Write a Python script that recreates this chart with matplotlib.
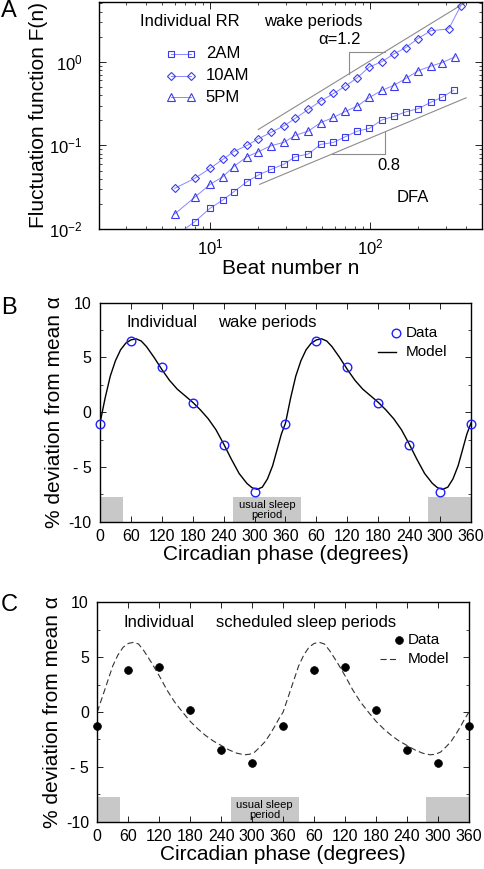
import matplotlib
matplotlib.use("Agg")
import matplotlib.pyplot as plt
from matplotlib.patches import Rectangle
from matplotlib.ticker import FixedLocator, MultipleLocator

plt.rcParams['font.family'] = ['Liberation Sans', 'DejaVu Sans']
plt.rcParams['mathtext.fontset'] = 'custom'
plt.rcParams['mathtext.rm'] = 'Liberation Sans'
plt.rcParams['mathtext.it'] = 'Liberation Sans:italic'

# ---------------- Panel A data (DFA) ----------------
n_2am = [6, 8, 10, 12, 14, 17, 20, 24, 29, 34, 41, 49, 59, 70, 83, 99, 118, 140, 167, 199, 239, 282, 333]
F_2am = [0.0081, 0.0122, 0.0177, 0.0222, 0.0277, 0.0368, 0.0442, 0.0516, 0.0598, 0.0732, 0.0788, 0.1028,
         0.1086, 0.127, 0.148, 0.160, 0.201, 0.222, 0.252, 0.274, 0.327, 0.378, 0.458]
n_10am = [6, 8, 10, 12, 14, 17, 20, 24, 29, 34, 41, 49, 59, 70, 83, 99, 118, 140, 167, 199, 239, 310, 368]
F_10am = [0.0306, 0.0403, 0.0531, 0.068, 0.084, 0.100, 0.120, 0.143, 0.172, 0.210, 0.269, 0.339,
          0.418, 0.512, 0.644, 0.871, 1.0, 1.235, 1.48, 1.90, 2.35, 2.48, 4.67]
n_5pm = [6, 8, 10, 12, 14, 17, 20, 24, 29, 34, 41, 49, 59, 70, 83, 99, 118, 140, 167, 199, 239, 282, 340]
F_5pm = [0.0151, 0.0239, 0.0342, 0.0422, 0.0556, 0.0732, 0.084, 0.099, 0.109, 0.132, 0.148, 0.187,
         0.216, 0.255, 0.295, 0.375, 0.454, 0.521, 0.632, 0.780, 0.887, 0.98, 1.15]
series_labels = ['2AM', '10AM', '5PM']

# reference slope lines (alpha = 1.2 and 0.8)
ref12_n = [20, 398]
ref12_F = [0.155, 5.21]
ref08_n = [20.4, 398]
ref08_F = [0.0342, 0.371]
tri12_n = [74, 74, 123]
tri12_F = [0.72, 1.317, 1.317]
tri08_n = [58, 124, 124]
tri08_F = [0.0789, 0.0789, 0.1445]

# ---------------- Panel B / C data ----------------
phase = [0, 60, 120, 180, 240, 300, 360, 420, 480, 540, 600, 660, 720]
phase_labels = ['0', '60', '120', '180', '240', '300', '360', '60', '120', '180', '240', '300', '360']
wake_data = [-1.08, 6.47, 4.12, 0.87, -3.03, -7.26, -1.08, 6.47, 4.12, 0.87, -3.03, -7.26, -1.08]
sleep_data = [-1.31, 3.8, 4.1, 0.15, -3.47, -4.68, -1.31, 3.8, 4.1, 0.15, -3.47, -4.68, -1.31]

model_deg = [0, 10, 20, 30, 40, 50, 60, 70, 80, 90, 105, 120, 135, 150, 165, 180, 195, 210, 225,
             240, 255, 270, 285, 295, 305, 315, 325, 335, 345, 352, 360]
wake_model = [-1.0, 1.3, 3.3, 4.7, 5.7, 6.3, 6.6, 6.7, 6.5, 6.0, 5.0, 3.9, 2.9, 2.1, 1.5, 0.9, 0.2,
              -0.6, -1.6, -2.9, -4.3, -5.6, -6.5, -6.9, -7.05, -6.85, -6.1, -4.9, -3.2, -2.0, -1.0]
sleep_model = [0.0, 1.4, 2.8, 4.2, 5.2, 5.9, 6.25, 6.35, 6.2, 5.6, 4.5, 3.3, 2.0, 0.9, 0.0, -0.85,
               -1.55, -2.15, -2.65, -3.05, -3.45, -3.75, -3.9, -3.85, -3.65, -3.2, -2.7, -2.0, -1.2,
               -0.6, 0.0]
model_x = model_deg + [d + 360 for d in model_deg[1:]]
wake_model_full = wake_model + wake_model[1:]
sleep_model_full = sleep_model + sleep_model[1:]

sleep_boxes = [(0, 44), (259, 390), (636, 720)]

# ---------------- Figure ----------------
fig = plt.figure(figsize=(4.84, 8.69), dpi=100)

TICK_FS = 11.5
LAB_FS = 15
TXT_FS = 12

# ---- Panel A ----
axA = fig.add_axes([0.2045, 0.7365, 0.7913, 0.2612])
axA.set_xscale('log')
axA.set_yscale('log')
gc = '#8c8c8c'
axA.plot(ref12_n, ref12_F, color=gc, lw=0.8)
axA.plot(ref08_n, ref08_F, color=gc, lw=0.8)
axA.plot(tri12_n, tri12_F, color=gc, lw=0.8)
axA.plot(tri08_n, tri08_F, color=gc, lw=0.8)

lc = '#8888ff'
mc = '#3a3aee'
styles = [('s', 4.6), ('D', 3.9), ('^', 5.6)]
for (n, F), (m, ms) in zip([(n_2am, F_2am), (n_10am, F_10am), (n_5pm, F_5pm)], styles):
    axA.plot(n, F, color=lc, lw=0.7, marker=m, ms=ms, mfc='none', mec=mc, mew=0.8)

axA.set_xlim(2.02, 500)
axA.set_ylim(0.01, 5.2)
axA.yaxis.set_major_locator(FixedLocator([0.01, 0.1, 1]))
axA.set_yticklabels(['$10^{-2}$', '$10^{-1}$', '$10^{0}$'])
axA.xaxis.set_major_locator(FixedLocator([10, 100]))
axA.set_xticklabels(['$10^{1}$', '$10^{2}$'])
axA.tick_params(which='both', direction='in', top=True, right=True, labelsize=12)
axA.tick_params(which='major', length=5, width=0.6)
axA.tick_params(which='minor', length=2.5, width=0.5)
axA.tick_params(axis='y', pad=12)
axA.tick_params(axis='x', pad=6)
axA.set_xlabel('Beat number n', fontsize=LAB_FS, labelpad=1)
axA.set_ylabel('Fluctuation function F(n)', fontsize=LAB_FS, labelpad=1)
for s in axA.spines.values():
    s.set_linewidth(1.0)

axA.text(0.107, 0.916, 'Individual RR', transform=axA.transAxes, fontsize=TXT_FS, va='center')
axA.text(0.431, 0.916, 'wake periods', transform=axA.transAxes, fontsize=TXT_FS, va='center')
axA.text(0.572, 0.833, 'α=1.2', transform=axA.transAxes, fontsize=TXT_FS, va='center')
axA.text(0.726, 0.278, '0.8', transform=axA.transAxes, fontsize=TXT_FS, va='center')
axA.text(0.778, 0.137, 'DFA', transform=axA.transAxes, fontsize=TXT_FS, va='center')

# legend of panel A (drawn in axes fraction)
leg_rows = [0.771, 0.674, 0.581]
for (m, ms), lab, yy in zip(styles, series_labels, leg_rows):
    axA.plot([0.188, 0.240], [yy, yy], transform=axA.transAxes, color=lc, lw=0.7, marker=m, ms=ms,
             mfc='none', mec=mc, mew=0.8)
    axA.text(0.279, yy, lab, transform=axA.transAxes, fontsize=TXT_FS, va='center')
fig.text(0.002, 0.987, 'A', fontsize=17, va='center', ha='left')


def phase_panel(ax, data, model_y, marker_kw, model_kw, title2, letter, letter_y, leg):
    for x0, x1 in sleep_boxes:
        ax.add_patch(Rectangle((x0, -10), x1 - x0, 2.28, facecolor='#c8c8c8', edgecolor='none', zorder=0))
    ax.plot(model_x, model_y, zorder=2, **model_kw)
    ax.plot(phase, data, ls='none', zorder=3, clip_on=False, **marker_kw)
    ax.set_xlim(0, 720)
    ax.set_ylim(-10, 10)
    ax.set_xticks(phase)
    ax.set_xticklabels(phase_labels)
    ax.set_yticks([-10, -5, 0, 5, 10])
    ax.set_yticklabels(['-10', '- 5', '0', '5', '10'])
    ax.yaxis.set_minor_locator(MultipleLocator(2.5))
    ax.tick_params(which='both', direction='in', top=True, right=True, labelsize=TICK_FS)
    ax.tick_params(which='major', length=4, width=0.6)
    ax.tick_params(which='minor', length=2.5, width=0.5)
    ax.tick_params(axis='y', pad=6)
    ax.tick_params(axis='x', pad=5)
    ax.set_xlabel('Circadian phase (degrees)', fontsize=LAB_FS, labelpad=1)
    ax.set_ylabel('% deviation from mean α', fontsize=LAB_FS, labelpad=3)
    for s in ax.spines.values():
        s.set_linewidth(1.0)
    ax.text(51, 8.15, 'Individual', fontsize=TXT_FS, va='center')
    ax.text(230, 8.15, title2, fontsize=TXT_FS, va='center')
    ax.text(324, -8.95, 'usual sleep\nperiod', fontsize=8, ha='center', va='center', linespacing=1.0)
    # legend (axes fraction)
    xm, xl0, xt, yd, ym = leg
    ax.plot([xm], [yd], transform=ax.transAxes, ls='none', clip_on=False, **marker_kw)
    ax.text(xt, yd, 'Data', transform=ax.transAxes, fontsize=11, va='center')
    ax.plot([xl0, xm], [ym, ym], transform=ax.transAxes, **model_kw)
    ax.text(xt, ym, 'Model', transform=ax.transAxes, fontsize=11, va='center')
    fig.text(0.002, letter_y, letter, fontsize=17, va='center', ha='left')


axB = fig.add_axes([0.2066, 0.3997, 0.7665, 0.2520])
phase_panel(axB, wake_data, wake_model_full,
            dict(marker='o', ms=6.2, mfc='none', mec='#1f1fff', mew=1.0),
            dict(color='black', lw=1.0), 'wake periods', 'B', 1 - 308 / 869,
            (0.798, 0.749, 0.825, 0.860, 0.773))

axC = fig.add_axes([0.2010, 0.0544, 0.768, 0.2525])
phase_panel(axC, sleep_data, sleep_model_full,
            dict(marker='o', ms=5.6, mfc='black', mec='black', mew=0.5),
            dict(color='#333333', lw=0.8, dashes=(5.5, 3)), 'scheduled sleep periods', 'C', 1 - 605 / 869,
            (0.812, 0.761, 0.836, 0.828, 0.740))

fig.savefig('out.png', dpi=100)
